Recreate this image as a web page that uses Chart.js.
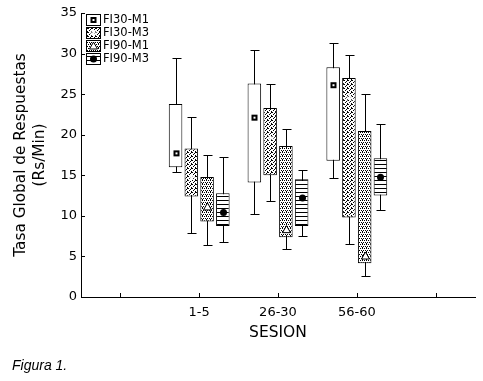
<!DOCTYPE html>
<html>
<head>
<meta charset="utf-8">
<script src="https://cdn.jsdelivr.net/npm/chart.js@4.4.0/dist/chart.umd.min.js"></script>
<style>
  html, body { margin: 0; padding: 0; background: #fff; }
  #wrap { position: relative; width: 483px; height: 381px; }
  #caption { position: absolute; left: 12px; top: 357px; font: italic 14px "Liberation Sans", Arial, sans-serif; color: #000; }
</style>
</head>
<body>
<div id="wrap">
  <canvas id="chart" width="483" height="381"></canvas>
  <div id="caption">Figura 1.</div>
</div>
<script>
// -----------------------------
// Data
// -----------------------------
const tickLabels = ['', '1-5', '26-30', '56-60', ''];
const seriesNames = ['FI30-M1', 'FI30-M3', 'FI90-M1', 'FI90-M3'];

// one row per series, one value per session (1-5, 26-30, 56-60)
const whiskerLow  = [[15.4, 10.2, 14.7], [7.9, 11.8, 6.5], [6.4, 5.9, 2.6],  [6.75, 7.5, 10.7]];
const boxLow      = [[16.0, 14.1, 16.8], [12.4, 15.0, 9.8], [9.3, 7.35, 4.15], [8.75, 8.75, 12.5]];
const boxHigh     = [[23.8, 26.3, 28.3], [18.3, 23.3, 27.0], [14.8, 18.6, 20.45], [12.8, 14.5, 17.1]];
const whiskerHigh = [[29.4, 30.5, 31.3], [22.2, 26.2, 29.8], [17.5, 20.7, 25.0], [17.3, 15.7, 21.3]];
const centerValue = [[17.7, 22.1, 26.1], [14.7, 19.6, 24.5], [11.1, 8.3, 5.05], [10.4, 12.2, 14.75]];

// -----------------------------
// Fill patterns
// -----------------------------
function makePattern(w, h, dots) {
  const c = document.createElement('canvas');
  c.width = w; c.height = h;
  const g = c.getContext('2d');
  g.fillStyle = '#fff';
  g.fillRect(0, 0, w, h);
  g.fillStyle = '#000';
  dots.forEach(([dx, dy]) => g.fillRect(dx, dy, 1, 1));
  return document.getElementById('chart').getContext('2d').createPattern(c, 'repeat');
}
const fills = [
  '#fff',
  makePattern(4, 4, [[0, 0], [2, 1], [1, 2], [3, 3], [3, 0]]),
  makePattern(4, 4, [[0, 0], [2, 0], [1, 2], [3, 2], [2, 3]]),
  makePattern(1, 4, [[0, 0]])
];

// -----------------------------
// Markers
// -----------------------------
function drawMarker(ctx, kind, x, y) {
  ctx.save();
  ctx.lineWidth = 1;
  if (kind === 0) {
    ctx.fillStyle = '#000';
    ctx.fillRect(x - 3, y - 3, 6, 6);
    ctx.fillStyle = '#fff';
    ctx.fillRect(x - 1, y - 1, 2, 2);
  } else if (kind === 1) {
    ctx.strokeStyle = '#fff';
    ctx.beginPath();
    ctx.moveTo(x - 4, y); ctx.lineTo(x + 4, y);
    ctx.moveTo(x, y - 4); ctx.lineTo(x, y + 4);
    ctx.moveTo(x - 2.5, y - 2.5); ctx.lineTo(x + 2.5, y + 2.5);
    ctx.moveTo(x + 2.5, y - 2.5); ctx.lineTo(x - 2.5, y + 2.5);
    ctx.stroke();
  } else if (kind === 2) {
    ctx.fillStyle = '#fff';
    ctx.strokeStyle = '#000';
    ctx.beginPath();
    ctx.moveTo(x, y - 4); ctx.lineTo(x + 4, y + 3); ctx.lineTo(x - 4, y + 3); ctx.closePath();
    ctx.fill(); ctx.stroke();
  } else {
    ctx.fillStyle = '#000';
    ctx.beginPath();
    ctx.arc(x, y, 3.5, 0, Math.PI * 2);
    ctx.fill();
  }
  ctx.restore();
}

// -----------------------------
// Datasets: floating bars for the boxes
// -----------------------------
const datasets = seriesNames.map((name, s) => ({
  label: name,
  data: [null, ...boxLow[s].map((lo, i) => [lo, boxHigh[s][i]]), null],
  whiskerLow: [null, ...whiskerLow[s], null],
  whiskerHigh: [null, ...whiskerHigh[s], null],
  center: [null, ...centerValue[s], null],
  backgroundColor: fills[s],
  borderColor: '#000',
  borderWidth: 1,
  borderSkipped: false,
  categoryPercentage: 0.8,
  barPercentage: 0.86
}));

// whiskers, markers, inward ticks and legend
const boxExtras = {
  id: 'boxExtras',
  beforeDatasetsDraw(chart) {
    const { ctx } = chart;
    const y = chart.scales.y;
    ctx.save();
    ctx.strokeStyle = '#000';
    ctx.lineWidth = 1;
    chart.data.datasets.forEach((ds, s) => {
      const meta = chart.getDatasetMeta(s);
      ds.data.forEach((v, i) => {
        if (!v) return;
        const cx = Math.round(meta.data[i].x) + 0.5;
        const yHi = Math.round(y.getPixelForValue(ds.whiskerHigh[i])) + 0.5;
        const yLo = Math.round(y.getPixelForValue(ds.whiskerLow[i])) + 0.5;
        ctx.beginPath();
        ctx.moveTo(cx, yHi); ctx.lineTo(cx, yLo);
        ctx.moveTo(cx - 4, yHi); ctx.lineTo(cx + 5, yHi);
        ctx.moveTo(cx - 4, yLo); ctx.lineTo(cx + 5, yLo);
        ctx.stroke();
      });
    });
    ctx.restore();
  },
  afterDatasetsDraw(chart) {
    const { ctx, chartArea } = chart;
    const x = chart.scales.x, y = chart.scales.y;
    chart.data.datasets.forEach((ds, s) => {
      const meta = chart.getDatasetMeta(s);
      ds.data.forEach((v, i) => {
        if (!v) return;
        drawMarker(ctx, s, Math.round(meta.data[i].x) + 0.5, y.getPixelForValue(ds.center[i]));
      });
    });

    // inward tick marks
    ctx.save();
    ctx.strokeStyle = '#000';
    ctx.lineWidth = 1;
    ctx.beginPath();
    y.ticks.forEach((t, i) => {
      const py = Math.round(y.getPixelForTick(i)) + 0.5;
      ctx.moveTo(chartArea.left, py); ctx.lineTo(chartArea.left + 4, py);
    });
    x.ticks.forEach((t, i) => {
      const px = Math.round(x.getPixelForTick(i)) + 0.5;
      ctx.moveTo(px, chartArea.bottom); ctx.lineTo(px, chartArea.bottom - 4);
    });
    ctx.stroke();

    // legend box in the upper left of the plot
    const lx = chartArea.left + 5;
    chart.data.datasets.forEach((ds, s) => {
      const cy = chartArea.top + 6 + s * 13.3;
      const top = Math.round(cy - 5.5) + 0.5;
      ctx.fillStyle = ds.backgroundColor;
      ctx.fillRect(lx, top, 14, 11);
      ctx.strokeStyle = '#000';
      ctx.strokeRect(lx + 0.5, top, 14, 11);
      drawMarker(ctx, s, lx + 7.5, top + 5.5);
      ctx.fillStyle = '#000';
      ctx.font = '11.5px "DejaVu Sans"';
      ctx.textBaseline = 'middle';
      ctx.textAlign = 'left';
      ctx.fillText(ds.label, lx + 17, top + 6);
    });
    ctx.restore();
  }
};

new Chart(document.getElementById('chart'), {
  type: 'bar',
  data: { labels: tickLabels, datasets },
  plugins: [boxExtras],
  options: {
    responsive: false,
    animation: false,
    layout: { padding: { top: 13, right: 8, bottom: 39, left: 0 } },
    plugins: { legend: { display: false }, tooltip: { enabled: false } },
    scales: {
      x: {
        grid: { display: false, drawTicks: false },
        border: { display: true, color: '#000', width: 1 },
        ticks: { padding: 8, color: '#000', font: { family: 'DejaVu Sans', size: 13 } },
        title: { display: true, text: 'SESION', color: '#000', font: { family: 'DejaVu Sans', size: 15.5 }, padding: { top: 2, bottom: 0 } },
        afterFit(scale) { scale.height = 45; }
      },
      y: {
        min: 0,
        max: 35,
        grid: { display: false, drawTicks: false },
        border: { display: true, color: '#000', width: 1 },
        ticks: { stepSize: 5, padding: 4, color: '#000', font: { family: 'DejaVu Sans', size: 13 } },
        title: { display: true, text: ['Tasa Global de Respuestas', '(Rs/Min)'], color: '#000', font: { family: 'DejaVu Sans', size: 15.3 }, padding: { top: 12, bottom: 0 } },
        afterFit(scale) { scale.width = 81; }
      }
    }
  }
});
</script>
</body>
</html>
